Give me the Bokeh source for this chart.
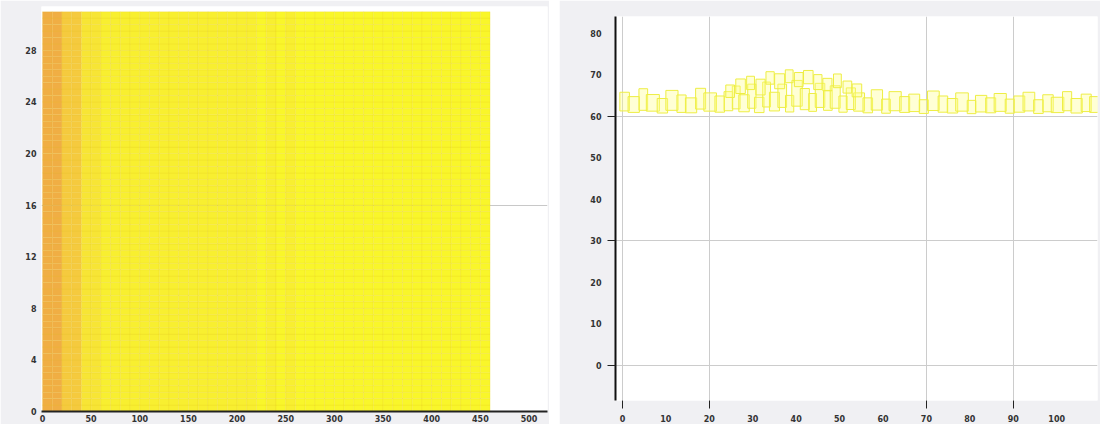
from bokeh.plotting import figure
from bokeh.layouts import row, column
from bokeh.models import FixedTicker, ColumnDataSource, Range1d
from bokeh.transform import linear_cmap
from bokeh.embed import file_html
from bokeh.resources import INLINE

# ---------------- left heat map data ----------------
left_x_ticks = [0, 50, 100, 150, 200, 250, 300, 350, 400, 450, 500]
left_y_ticks = [0, 4, 8, 12, 16, 20, 24, 28]
col_starts = [0, 10, 20, 30, 40, 50, 60, 70, 80, 90, 100, 110, 120, 130, 140, 150,
              160, 170, 180, 190, 200, 210, 220, 230, 240, 250, 260, 270, 280, 290,
              300, 310, 320, 330, 340, 350, 360, 370, 380, 390, 400, 410, 420, 430, 440, 450]
col_values = [0.95, 0.86, 0.70, 0.62, 0.46, 0.36, 0.33, 0.34, 0.30, 0.32, 0.29, 0.31,
              0.28, 0.30, 0.27, 0.29, 0.26, 0.28, 0.25, 0.27, 0.24, 0.26, 0.23, 0.25,
              0.22, 0.24, 0.21, 0.23, 0.20, 0.22, 0.19, 0.21, 0.18, 0.19, 0.17, 0.18,
              0.15, 0.16, 0.14, 0.15, 0.13, 0.14, 0.12, 0.13, 0.12, 0.14]
row_starts = [i * 0.5 for i in range(62)]
heat_palette = ["#f9f62a", "#f8ef30", "#f7e535", "#f6d83a", "#f5ca3e", "#f3bc42", "#f0ae44"]

# ---------------- right scatter data ----------------
right_x_ticks = [0, 10, 20, 30, 40, 50, 60, 70, 80, 90, 100]
right_y_ticks = [0, 10, 20, 30, 40, 50, 60, 70, 80]
rx = [0.5, 2.6, 4.8, 7.0, 9.2, 11.4, 13.6, 15.8, 18.0, 20.2, 22.4, 24.4, 26.2, 28.0,
      29.8, 31.5, 33.2, 35.0, 36.8, 38.5, 40.2, 42.0, 43.8, 45.5, 47.3, 49.0, 50.8,
      52.6, 54.5, 56.5, 58.6, 60.7, 62.8, 65.0, 67.2, 69.4, 71.6, 73.8, 76.0, 78.2,
      80.4, 82.6, 84.8, 87.0, 89.2, 91.4, 93.6, 95.8, 98.0, 100.2, 102.4, 104.6, 106.8, 108.6]
ry = [63.5, 62.8, 64.0, 63.2, 62.5, 63.8, 63.0, 62.6, 64.2, 63.4, 62.9, 63.6, 64.5, 63.1,
      64.8, 62.7, 65.2, 63.5, 64.9, 63.0, 65.5, 64.1, 63.3, 65.0, 63.8, 64.6, 62.9,
      64.2, 63.4, 62.6, 63.9, 62.4, 63.6, 62.8, 63.2, 62.3, 63.7, 62.9, 62.5, 63.4,
      62.2, 63.0, 62.6, 63.3, 62.4, 62.9, 63.5, 62.3, 63.1, 62.7, 63.6, 62.5, 63.2, 62.8]
rw = [2.2, 2.6, 2.0, 3.0, 2.4, 2.8, 2.1, 2.6, 2.3, 2.9, 2.2, 2.0, 1.8, 2.4, 1.9, 2.2,
      1.8, 2.3, 2.0, 1.9, 2.4, 2.1, 1.8, 2.2, 2.0, 2.3, 1.9, 2.1, 2.5, 2.2, 2.6, 2.0,
      2.8, 2.3, 2.5, 2.1, 2.7, 2.2, 2.4, 2.9, 2.0, 2.6, 2.3, 2.8, 2.1, 2.5, 2.7, 2.2,
      2.4, 2.9, 2.1, 2.6, 2.3, 2.0]
rh = [4.5, 3.8, 5.2, 4.0, 3.5, 4.8, 4.2, 3.6, 5.0, 4.4, 3.9, 4.6, 5.5, 4.1, 5.8, 3.7,
      6.0, 4.5, 5.6, 4.0, 6.2, 5.1, 4.3, 5.8, 4.8, 5.4, 3.9, 5.2, 4.4, 3.6, 4.9, 3.4,
      4.6, 3.8, 4.2, 3.3, 4.7, 3.9, 3.5, 4.4, 3.2, 4.0, 3.6, 4.3, 3.4, 3.9, 4.5, 3.3,
      4.1, 3.7, 4.6, 3.5, 4.2, 3.8]
bx = [24.8, 27.2, 29.5, 31.8, 34.0, 36.2, 38.4, 40.6, 42.8, 45.0, 47.2, 49.5, 51.8, 54.0]
by = [66.0, 67.2, 68.0, 67.0, 69.2, 68.4, 69.6, 68.8, 69.4, 68.2, 67.6, 68.5, 67.0, 66.2]
bw = [2.0, 2.2, 1.8, 2.1, 1.9, 2.3, 1.8, 2.0, 2.2, 1.9, 2.1, 1.8, 2.0, 2.2]
bh = [3.0, 3.5, 3.2, 3.8, 3.0, 3.6, 3.1, 3.4, 3.2, 3.6, 3.0, 3.3, 2.9, 3.1]

BORDER = "#f0f0f3"
LABEL_COLOR = "#333333"

# ---------------- left figure ----------------
hx, hy, hv = [], [], []
for cs, cv in zip(col_starts, col_values):
    for rs in row_starts:
        hx.append(cs + 5)
        hy.append(rs + 0.25)
        hv.append(cv)
heat_src = ColumnDataSource(dict(x=hx, y=hy, v=hv))

p1 = figure(width=549, height=424, output_backend="svg", toolbar_location=None,
            x_range=Range1d(-1, 519), y_range=Range1d(0, 31.4),
            min_border_left=41, min_border_right=2, min_border_top=6, min_border_bottom=0)
p1.background_fill_color = "white"
p1.border_fill_color = BORDER
p1.outline_line_color = None
p1.rect(x="x", y="y", width=10, height=0.5, source=heat_src,
        fill_color=linear_cmap("v", heat_palette, 0.12, 0.95),
        line_color="#e6c020", line_alpha=0.25, line_width=0.6)

p1.xaxis.ticker = FixedTicker(ticks=left_x_ticks)
p1.yaxis.ticker = FixedTicker(ticks=left_y_ticks)
for ax in (p1.xaxis[0], p1.yaxis[0]):
    ax.major_tick_out = 0
    ax.major_tick_in = 0
    ax.minor_tick_out = 0
    ax.minor_tick_in = 0
    ax.major_label_text_font_size = "8px"
    ax.major_label_text_color = LABEL_COLOR
    ax.major_label_text_font = "DejaVu Sans"
    ax.major_label_text_font_style = "bold"
    ax.major_label_standoff = 3
    ax.axis_label_standoff = 0
p1.yaxis.major_label_standoff = 5
p1.xaxis.axis_line_color = "#222222"
p1.xaxis.axis_line_width = 2
p1.yaxis.axis_line_color = None
p1.xgrid.visible = False
p1.ygrid.ticker = FixedTicker(ticks=[16])
p1.ygrid.grid_line_color = "#c8c8c8"

# ---------------- right figure ----------------
p2 = figure(width=541, height=424, output_backend="svg", toolbar_location=None,
            x_range=Range1d(-1.6, 109.4), y_range=Range1d(-8.5, 84.0),
            min_border_left=56, min_border_right=3, min_border_top=16, min_border_bottom=0)
p2.background_fill_color = "white"
p2.border_fill_color = BORDER
p2.outline_line_color = None

p2.rect(x=rx, y=ry, width=rw, height=rh, fill_color="#ffff88", fill_alpha=0.35,
        line_color="#eeee44", line_width=1)
p2.rect(x=bx, y=by, width=bw, height=bh, fill_color="#ffff88", fill_alpha=0.35,
        line_color="#eeee44", line_width=1)

p2.xaxis.ticker = FixedTicker(ticks=right_x_ticks, minor_ticks=[0, 20, 70, 90])
p2.yaxis.ticker = FixedTicker(ticks=right_y_ticks, minor_ticks=[0, 30, 60])
for ax in (p2.xaxis[0], p2.yaxis[0]):
    ax.major_tick_out = 0
    ax.major_tick_in = 0
    ax.minor_tick_out = 8
    ax.minor_tick_in = 0
    ax.minor_tick_line_color = "#222222"
    ax.minor_tick_line_width = 1
    ax.major_label_text_font_size = "8px"
    ax.major_label_text_color = LABEL_COLOR
    ax.major_label_text_font = "DejaVu Sans"
    ax.major_label_text_font_style = "bold"
    ax.major_label_standoff = 6
    ax.axis_label_standoff = 0
p2.xaxis.axis_line_color = None
p2.yaxis.axis_line_color = "#111111"
p2.yaxis.axis_line_width = 2
p2.xgrid.ticker = FixedTicker(ticks=[0, 20, 70, 90])
p2.ygrid.ticker = FixedTicker(ticks=[0, 30, 60])
p2.xgrid.grid_line_color = "#cccccc"
p2.ygrid.grid_line_color = "#cccccc"

layout = row(column(p1), column(p2), spacing=10)
open("out.html", "w").write(file_html(layout, INLINE))
